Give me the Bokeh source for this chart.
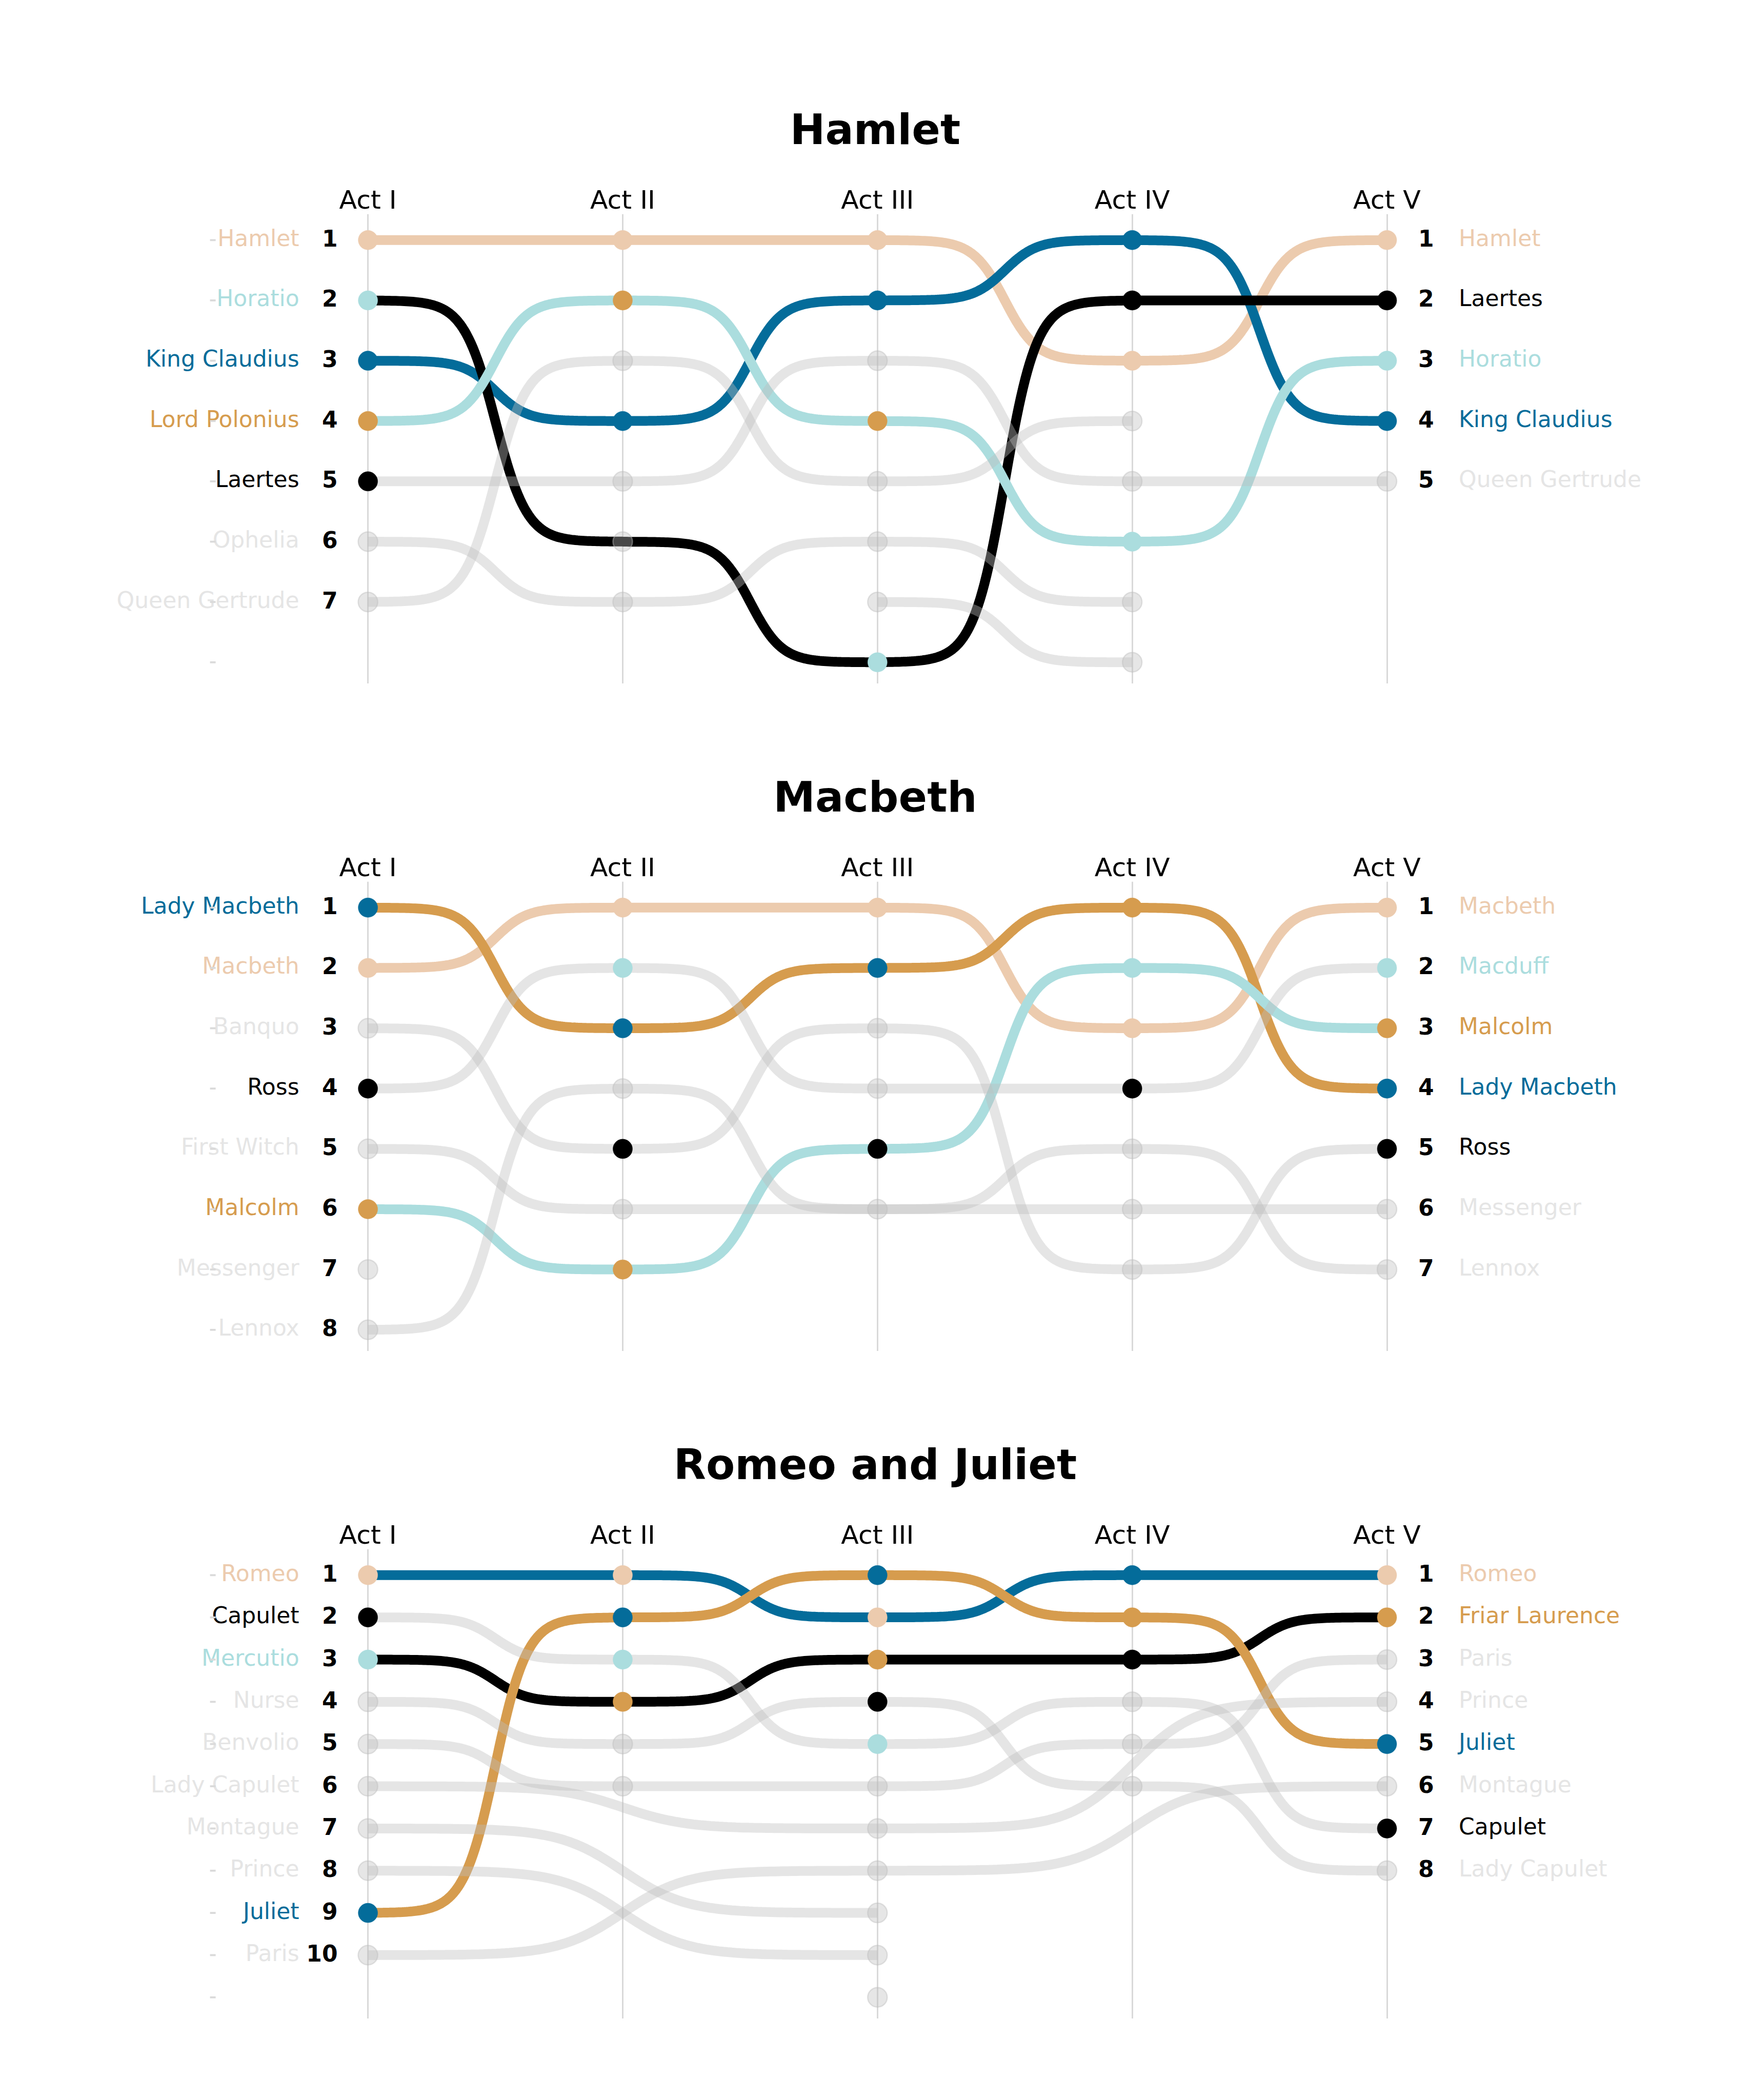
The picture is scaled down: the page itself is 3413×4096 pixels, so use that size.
import numpy as np
from bokeh.plotting import figure
from bokeh.layouts import column
from bokeh.models import Range1d, FixedTicker, ColumnDataSource
from bokeh.core.properties import value
from bokeh.embed import file_html
from bokeh.resources import INLINE

ACTS = ["Act I", "Act II", "Act III", "Act IV", "Act V"]
PEACH, BLUE, ORANGE, TEAL, BLACK, GREY = "#ECCBAE", "#046C9A", "#D69C4E", "#ABDDDE", "#000000", "#BEBEBE"
TXT_GREY = "#E5E5E5"

# ---------------- Hamlet ----------------
hamlet_title = "Hamlet"
hamlet_positions = 8
hamlet_line_ranks = [
    [1, 1, 1, 3, 1],
    [2, 6, 8, 2, 2],
    [3, 4, 2, 1, 4],
    [4, 2, 4, 6, 3],
    [5, 5, 3, 5, 5],
    [6, 7, 6, 7, None],
    [7, 3, 5, 4, None],
    [None, None, 7, 8, None],
]
hamlet_line_colors = [PEACH, BLACK, BLUE, TEAL, GREY, GREY, GREY, GREY]
hamlet_point_colors = [
    [PEACH, TEAL, BLUE, ORANGE, BLACK, GREY, GREY],
    [PEACH, ORANGE, GREY, BLUE, GREY, GREY, GREY],
    [PEACH, BLUE, GREY, ORANGE, GREY, GREY, GREY, TEAL],
    [BLUE, BLACK, PEACH, GREY, GREY, TEAL, GREY, GREY],
    [PEACH, BLACK, TEAL, BLUE, GREY],
]
hamlet_left_labels = ["Hamlet", "Horatio", "King Claudius", "Lord Polonius", "Laertes", "Ophelia", "Queen Gertrude"]
hamlet_left_colors = [PEACH, TEAL, BLUE, ORANGE, BLACK, GREY, GREY]
hamlet_right_labels = ["Hamlet", "Laertes", "Horatio", "King Claudius", "Queen Gertrude"]
hamlet_right_colors = [PEACH, BLACK, TEAL, BLUE, GREY]

# ---------------- Macbeth ----------------
macbeth_title = "Macbeth"
macbeth_positions = 8
macbeth_line_ranks = [
    [1, 3, 2, 1, 4],
    [2, 1, 1, 3, 1],
    [3, 5, 3, 7, 5],
    [4, 2, 4, 4, 2],
    [5, 6, 6, 6, 6],
    [6, 7, 5, 2, 3],
    [8, 4, 6, 5, 7],
]
macbeth_line_colors = [ORANGE, PEACH, GREY, GREY, GREY, TEAL, GREY]
macbeth_point_colors = [
    [BLUE, PEACH, GREY, BLACK, GREY, ORANGE, GREY, GREY],
    [PEACH, TEAL, BLUE, GREY, BLACK, GREY, ORANGE],
    [PEACH, BLUE, GREY, GREY, BLACK, GREY],
    [ORANGE, TEAL, PEACH, BLACK, GREY, GREY, GREY],
    [PEACH, TEAL, ORANGE, BLUE, BLACK, GREY, GREY],
]
macbeth_left_labels = ["Lady Macbeth", "Macbeth", "Banquo", "Ross", "First Witch", "Malcolm", "Messenger", "Lennox"]
macbeth_left_colors = [BLUE, PEACH, GREY, BLACK, GREY, ORANGE, GREY, GREY]
macbeth_right_labels = ["Macbeth", "Macduff", "Malcolm", "Lady Macbeth", "Ross", "Messenger", "Lennox"]
macbeth_right_colors = [PEACH, TEAL, ORANGE, BLUE, BLACK, GREY, GREY]

# ---------------- Romeo and Juliet ----------------
rj_title = "Romeo and Juliet"
rj_positions = 11
rj_line_ranks = [
    [1, 1, 2, 1, 1],
    [2, 3, 5, 4, 7],
    [3, 4, 3, 3, 2],
    [4, 5, 4, 6, 8],
    [5, 6, 6, 5, 3],
    [6, None, 7, None, 4],
    [7, None, 9, None, None],
    [8, None, 10, None, None],
    [9, 2, 1, 2, 5],
    [10, None, 8, None, 6],
]
rj_line_colors = [BLUE, GREY, BLACK, GREY, GREY, GREY, GREY, GREY, ORANGE, GREY]
rj_point_colors = [
    [PEACH, BLACK, TEAL, GREY, GREY, GREY, GREY, GREY, BLUE, GREY],
    [PEACH, BLUE, TEAL, ORANGE, GREY, GREY],
    [BLUE, PEACH, ORANGE, BLACK, TEAL, GREY, GREY, GREY, GREY, GREY, GREY],
    [BLUE, ORANGE, BLACK, GREY, GREY, GREY],
    [PEACH, ORANGE, GREY, GREY, BLUE, GREY, BLACK, GREY],
]
rj_left_labels = ["Romeo", "Capulet", "Mercutio", "Nurse", "Benvolio", "Lady Capulet", "Montague", "Prince", "Juliet", "Paris"]
rj_left_colors = [PEACH, BLACK, TEAL, GREY, GREY, GREY, GREY, GREY, BLUE, GREY]
rj_right_labels = ["Romeo", "Friar Laurence", "Paris", "Prince", "Juliet", "Montague", "Capulet", "Lady Capulet"]
rj_right_colors = [PEACH, ORANGE, GREY, GREY, BLUE, GREY, BLACK, GREY]

# ---------------- layout constants (px) ----------------
W = 3413
FRAME_H = 916
PAD_T = 50.8
PAD_B = 41.7
ACT1_PX = 717.1
ACT_STEP = 496.85
LINE_W = 19
MARK = 38
FONT = "DejaVu Sans"
TXT_DY = -4
LINE_ORDER = [PEACH, BLUE, BLACK, ORANGE, TEAL]


def bump_path(ranks, n=120, smooth=8.0):
    pts = [(i + 1, r) for i, r in enumerate(ranks) if r is not None]
    xs, ys = [], []
    for (xa, ya), (xb, yb) in zip(pts[:-1], pts[1:]):
        t = np.linspace(-smooth, smooth, n)
        s = 1.0 / (1.0 + np.exp(-t))
        xs.extend((xa + (t + smooth) / (2 * smooth) * (xb - xa)).tolist())
        ys.extend((ya + s * (yb - ya)).tolist())
    return xs, ys


def txt_col(c):
    return TXT_GREY if c == GREY else c


def panel(title, n_pos, line_ranks, line_colors, point_colors,
          left_labels, left_colors, right_labels, right_colors, top):
    step = (FRAME_H - PAD_T - PAD_B) / (n_pos - 1)
    y_bottom = n_pos + PAD_B / step
    y_top = 1 - PAD_T / step
    x_start = 1 - ACT1_PX / ACT_STEP
    x_end = x_start + W / ACT_STEP
    p = figure(width=W, height=top + FRAME_H,
               x_range=Range1d(x_start, x_end), y_range=Range1d(y_bottom, y_top),
               output_backend="svg", toolbar_location=None,
               x_axis_location="above", y_axis_location=None,
               min_border_left=0, min_border_right=0, min_border_bottom=0,
               min_border_top=top, title=title)
    p.outline_line_color = None
    p.background_fill_color = "white"
    p.border_fill_color = "white"
    p.ygrid.visible = False
    p.xgrid.ticker = FixedTicker(ticks=[1, 2, 3, 4, 5])
    p.xgrid.grid_line_color = "#D9D9D9"
    p.xgrid.grid_line_width = 3

    xa = p.xaxis[0]
    xa.ticker = FixedTicker(ticks=[1, 2, 3, 4, 5])
    xa.major_label_overrides = {i + 1: a for i, a in enumerate(ACTS)}
    xa.axis_line_color = None
    xa.major_tick_line_color = None
    xa.minor_tick_line_color = None
    xa.major_tick_out = 0
    xa.major_tick_in = 0
    xa.major_label_text_font = FONT
    xa.major_label_text_font_size = "50.5px"
    xa.major_label_text_color = "black"
    xa.major_label_standoff = -1

    p.title.align = "center"
    p.title.text_font = FONT
    p.title.text_font_size = "82px"
    p.title.text_font_style = "bold"
    p.title.text_color = "black"
    p.title.standoff = 113

    # lines: colored first, grey on top (translucent)
    col_xs, col_ys, col_c, col_key = [], [], [], []
    g_xs, g_ys = [], []
    for ranks, c in zip(line_ranks, line_colors):
        xs, ys = bump_path(ranks)
        if c == GREY:
            g_xs.append(xs); g_ys.append(ys)
        else:
            col_xs.append(xs); col_ys.append(ys); col_c.append(c); col_key.append(LINE_ORDER.index(c))
    order = np.argsort(col_key, kind="stable")
    if len(order):
        p.multi_line([col_xs[i] for i in order], [col_ys[i] for i in order],
                     line_color=[col_c[i] for i in order], line_width=LINE_W)
    if g_xs:
        p.multi_line(g_xs, g_ys, line_color=GREY, line_alpha=0.4, line_width=LINE_W)

    # points
    px, py, pc = [], [], []
    gx, gy = [], []
    for ai, cols in enumerate(point_colors):
        for ri, c in enumerate(cols):
            if c == GREY:
                gx.append(ai + 1); gy.append(ri + 1)
            else:
                px.append(ai + 1); py.append(ri + 1); pc.append(c)
    p.scatter(gx, gy, size=MARK, fill_color=GREY, fill_alpha=0.38,
              line_color=GREY, line_alpha=0.45, line_width=2.5)
    p.scatter(px, py, size=MARK, fill_color=pc, line_color=pc, line_width=0.5)

    # left labels and ranks
    nl = len(left_labels)
    src_l = ColumnDataSource(dict(x=[1] * nl, y=list(range(1, nl + 1)), t=left_labels,
                                  c=[txt_col(c) for c in left_colors],
                                  r=[str(i) for i in range(1, nl + 1)]))
    p.text(x="x", y="y", text="t", source=src_l, text_color="c", text_align="right",
           text_baseline="alphabetic", x_offset=-134, y_offset=TXT_DY,
           text_font=value(FONT), text_font_size=value("44px"))
    p.text(x="x", y="y", text="r", source=src_l, text_color="black", text_align="right",
           text_baseline="alphabetic", x_offset=-59, y_offset=TXT_DY,
           text_font=value(FONT), text_font_size=value("44px"), text_font_style="bold")

    nr = len(right_labels)
    src_r = ColumnDataSource(dict(x=[5] * nr, y=list(range(1, nr + 1)), t=right_labels,
                                  c=[txt_col(c) for c in right_colors],
                                  r=[str(i) for i in range(1, nr + 1)]))
    p.text(x="x", y="y", text="r", source=src_r, text_color="black", text_align="left",
           text_baseline="alphabetic", x_offset=61, y_offset=TXT_DY,
           text_font=value(FONT), text_font_size=value("44px"), text_font_style="bold")
    p.text(x="x", y="y", text="t", source=src_r, text_color="c", text_align="left",
           text_baseline="alphabetic", x_offset=140, y_offset=TXT_DY,
           text_font=value(FONT), text_font_size=value("44px"))

    # small tick dashes at the left of every position
    dash_x = 1 - 302.5 / ACT_STEP
    p.scatter([dash_x] * n_pos, list(range(1, n_pos + 1)), marker="dash", size=11,
              line_color="#DADADA", line_width=3.8)
    return p


p1 = panel(hamlet_title, hamlet_positions, hamlet_line_ranks, hamlet_line_colors, hamlet_point_colors,
           hamlet_left_labels, hamlet_left_colors, hamlet_right_labels, hamlet_right_colors, 417)
p2 = panel(macbeth_title, macbeth_positions, macbeth_line_ranks, macbeth_line_colors, macbeth_point_colors,
           macbeth_left_labels, macbeth_left_colors, macbeth_right_labels, macbeth_right_colors, 386)
p3 = panel(rj_title, rj_positions, rj_line_ranks, rj_line_colors, rj_point_colors,
           rj_left_labels, rj_left_colors, rj_right_labels, rj_right_colors, 386)

layout = column(p1, p2, p3, spacing=0)
open("out.html", "w").write(file_html(layout, INLINE))
